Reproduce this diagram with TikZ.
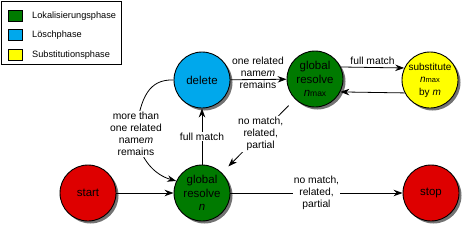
\documentclass[tikz,border=0pt]{standalone}
\usepackage{fontspec}
\setmainfont{Liberation Sans}
\usetikzlibrary{arrows.meta,shadows}
\definecolor{lgreen}{RGB}{0,122,0}
\definecolor{lblue}{RGB}{0,168,236}
\definecolor{lyellow}{RGB}{255,255,0}
\definecolor{lred}{RGB}{222,0,0}
\begin{document}
\begin{tikzpicture}[x=1pt,y=-1pt,
  state/.style={circle,draw,line width=0.9pt,minimum size=56pt,inner sep=0pt,align=center,
    font=\fontsize{11.5}{13.5}\selectfont,
    drop shadow={shadow xshift=2.5pt,shadow yshift=-2.5pt,fill=black!55,opacity=1}},
  lbl/.style={align=center,font=\fontsize{10.3}{12}\selectfont,inner sep=1pt},
  wlbl/.style={lbl,fill=white},
  conn/.style={line width=0.8pt,-{Stealth[length=9pt,width=6.5pt,inset=3pt]}},
  swatch/.style={draw,line width=0.8pt,minimum width=14pt,minimum height=11pt,inner sep=0pt},
  legtext/.style={anchor=west,font=\fontsize{9.2}{11}\selectfont,inner sep=0pt}]
\useasboundingbox (0,0) rectangle (463,226);
% legend
\node[draw,line width=0.8pt,minimum width=120pt,minimum height=63pt,anchor=north west,inner sep=0pt] (legend) at (1,1) {};
\node[swatch,fill=lgreen] (sg) at (15.5,16) {};
\node[swatch,fill=lblue] (sb) at (15.5,35) {};
\node[swatch,fill=lyellow] (sy) at (15.5,55) {};
\node[legtext] (tg) at (32,16) {Lokalisierungsphase};
\node[legtext] (tb) at (32,35) {Löschphase};
\node[legtext] (ty) at (32,55) {Substitutionsphase};
% states
\node[state,fill=lred] (start) at (88,193) {start};
\node[state,fill=lgreen] (grn) at (202,193) {global\\resolve\\\textit{n}};
\node[state,fill=lred] (stop) at (431,193) {stop};
\node[state,fill=lblue] (delete) at (202,80) {delete};
\node[state,fill=lgreen] (grmax) at (315,79) {global\\resolve\\\textit{n}{\fontsize{8.5}{10}\selectfont max}};
\node[state,fill=lyellow,font=\fontsize{10}{12.5}\selectfont] (subst) at (430,80) {substitute\\\textit{n}{\fontsize{7.5}{9}\selectfont max}\\by \textit{m}};
% connectors
\draw[conn] (start) -- (grn);
\draw[conn] (grn) -- node[wlbl] (l1) {no match,\\related,\\partial} (stop);
\draw[conn] (grn) -- node[wlbl] (l2) {full match} (delete);
\draw[conn] (delete) -- (grmax);
\node[lbl] (l3) at (258,73) {one related\\name\textit{m}\\remains};
\draw[conn] (grmax.25) -- node[lbl,above=1pt] (l4) {full match} (subst.155);
\draw[conn] (subst.-153) -- (grmax.-27);
\draw[conn,shorten <=9pt,shorten >=9pt] (grmax) -- node[wlbl,pos=0.47] (l5) {no match,\\related,\\partial} (grn);
\coordinate (m6) at (136,134);
\draw[line width=0.8pt] (delete.west) .. controls (150,79) and (140,96) .. (m6);
\draw[conn] (m6) .. controls (140,160) and (155,175) .. (grn.155);
\node[wlbl] (l6) at (m6) {more than\\one related\\name\textit{m}\\remains};
\end{tikzpicture}
\end{document}
